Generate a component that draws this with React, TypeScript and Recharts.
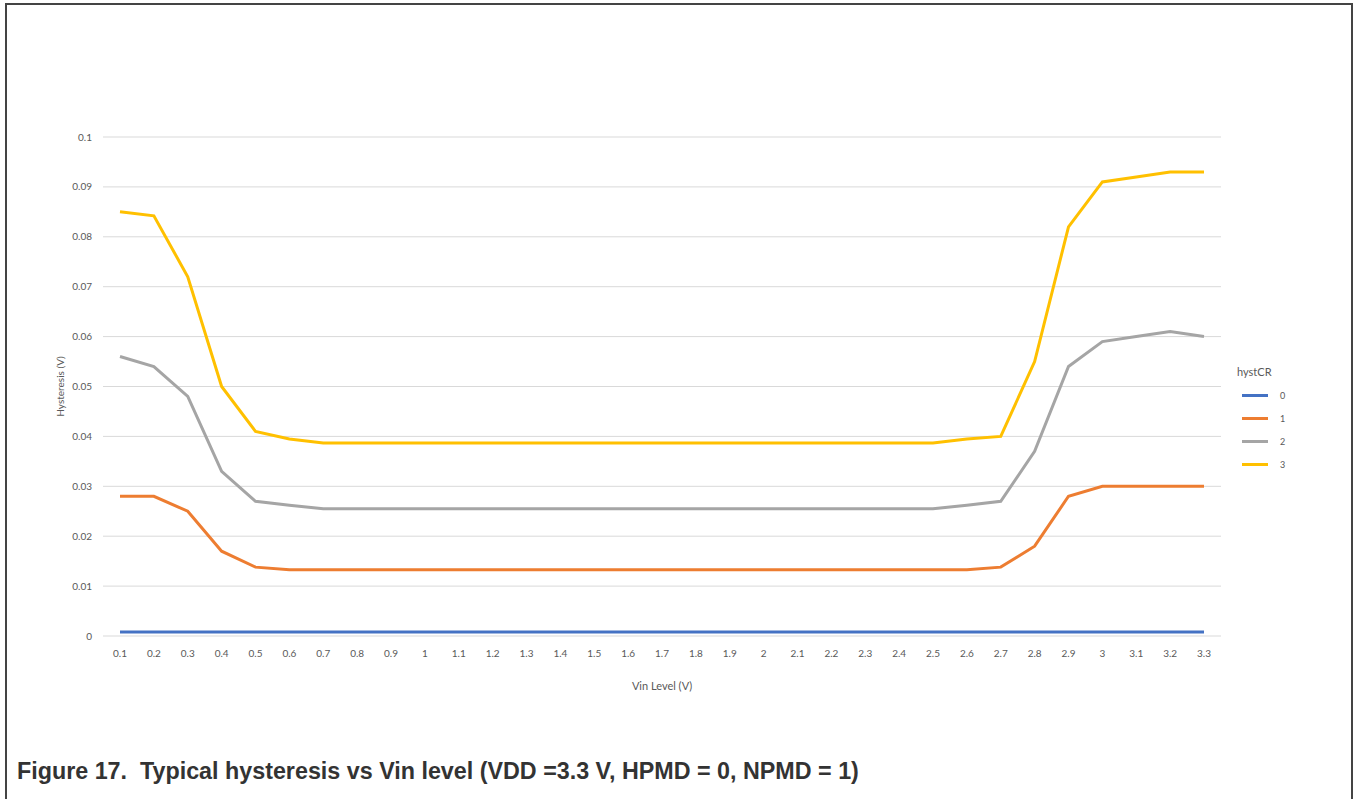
import React from 'react';
import { LineChart, Line, XAxis, YAxis, CartesianGrid, Legend } from 'recharts';

const vinLevels = ['0.1','0.2','0.3','0.4','0.5','0.6','0.7','0.8','0.9','1','1.1','1.2','1.3','1.4','1.5','1.6','1.7','1.8','1.9','2','2.1','2.2','2.3','2.4','2.5','2.6','2.7','2.8','2.9','3','3.1','3.2','3.3'];

const hyst0 = [0.0008,0.0008,0.0008,0.0008,0.0008,0.0008,0.0008,0.0008,0.0008,0.0008,0.0008,0.0008,0.0008,0.0008,0.0008,0.0008,0.0008,0.0008,0.0008,0.0008,0.0008,0.0008,0.0008,0.0008,0.0008,0.0008,0.0008,0.0008,0.0008,0.0008,0.0008,0.0008,0.0008];
const hyst1 = [0.028,0.028,0.025,0.017,0.0138,0.0133,0.0133,0.0133,0.0133,0.0133,0.0133,0.0133,0.0133,0.0133,0.0133,0.0133,0.0133,0.0133,0.0133,0.0133,0.0133,0.0133,0.0133,0.0133,0.0133,0.0133,0.0138,0.018,0.028,0.03,0.03,0.03,0.03];
const hyst2 = [0.056,0.054,0.048,0.033,0.027,0.0262,0.0255,0.0255,0.0255,0.0255,0.0255,0.0255,0.0255,0.0255,0.0255,0.0255,0.0255,0.0255,0.0255,0.0255,0.0255,0.0255,0.0255,0.0255,0.0255,0.0262,0.027,0.037,0.054,0.059,0.06,0.061,0.06];
const hyst3 = [0.085,0.0842,0.072,0.05,0.041,0.0395,0.0387,0.0387,0.0387,0.0387,0.0387,0.0387,0.0387,0.0387,0.0387,0.0387,0.0387,0.0387,0.0387,0.0387,0.0387,0.0387,0.0387,0.0387,0.0387,0.0395,0.04,0.055,0.082,0.091,0.092,0.093,0.093];

const yTicks = [0, 0.01, 0.02, 0.03, 0.04, 0.05, 0.06, 0.07, 0.08, 0.09, 0.1];

const seriesNames = ['0', '1', '2', '3'];
const seriesColors = ['#4472C4', '#ED7D31', '#A5A5A5', '#FFC000'];
const seriesValues = [hyst0, hyst1, hyst2, hyst3];

const data = vinLevels.map((v, i) => {
  const row: Record<string, number | string> = { vin: v };
  seriesNames.forEach((n, s) => { row['s' + n] = seriesValues[s][i]; });
  return row;
});

const FONT = 'Lato, "Open Sans", sans-serif';
const TICK_COLOR = '#595959';

const LegendContent = () => (
  <div style={{ fontFamily: FONT, color: TICK_COLOR }}>
    <div style={{ fontSize: 11, marginBottom: 6 }}>hystCR</div>
    {seriesNames.map((n, i) => (
      <div key={n} style={{ display: 'flex', alignItems: 'center', height: 23 }}>
        <div style={{ width: 26, height: 3, background: seriesColors[i], marginLeft: 5 }} />
        <span style={{ fontSize: 9, marginLeft: 12 }}>{n}</span>
      </div>
    ))}
  </div>
);

export default function App() {
  return (
    <div style={{ position: 'absolute', left: 0, top: 0, width: 1354, height: 799, background: '#fff', overflow: 'hidden' }}>
      <div style={{ position: 'absolute', left: 5, top: 3, width: 1348, height: 830, border: '2px solid #444', boxSizing: 'border-box' }} />
      <div style={{ position: 'absolute', left: 0, top: 0 }}>
        <LineChart width={1354} height={799} data={data} margin={{ top: 137, right: 133, left: 43, bottom: 133 }}>
          <CartesianGrid vertical={false} stroke="#D9D9D9" strokeWidth={1} />
          <XAxis
            dataKey="vin"
            interval={0}
            height={30}
            padding={{ left: 17, right: 17 }}
            axisLine={false}
            tickLine={false}
            tick={{ fontSize: 10, fill: TICK_COLOR, fontFamily: FONT }}
            tickMargin={8}
            label={{ value: 'Vin Level (V)', position: 'bottom', offset: 16, style: { fontSize: 11, fill: TICK_COLOR, fontFamily: FONT } }}
          />
          <YAxis
            width={60}
            domain={[0, 0.1]}
            ticks={yTicks}
            interval={0}
            axisLine={false}
            tickLine={false}
            tickFormatter={(v: number) => String(v)}
            tick={{ fontSize: 10, fill: TICK_COLOR, fontFamily: FONT }}
            tickMargin={5}
            label={{ value: 'Hysteresis (V)', angle: -90, position: 'insideLeft', offset: 17, style: { textAnchor: 'middle', fontSize: 10, fill: TICK_COLOR, fontFamily: FONT } }}
          />
          <Legend
            layout="horizontal"
            verticalAlign="middle"
            align="center"
            content={<LegendContent />}
            wrapperStyle={{ position: 'absolute', left: 1237, top: 365, right: 'auto', bottom: 'auto', width: 100, height: 110 }}
          />
          {seriesNames.map((n, i) => (
            <Line
              key={n}
              type="linear"
              dataKey={'s' + n}
              name={n}
              stroke={seriesColors[i]}
              strokeWidth={3}
              dot={false}
              activeDot={false}
              isAnimationActive={false}
            />
          ))}
        </LineChart>
      </div>
      <div style={{ position: 'absolute', left: 17, top: 758, fontFamily: '"Liberation Sans", Arial, sans-serif', fontWeight: 'bold', fontSize: 23.3, color: '#333', whiteSpace: 'pre' }}>
        {'Figure 17.  Typical hysteresis vs Vin level (VDD =3.3 V, HPMD = 0, NPMD = 1)'}
      </div>
    </div>
  );
}
